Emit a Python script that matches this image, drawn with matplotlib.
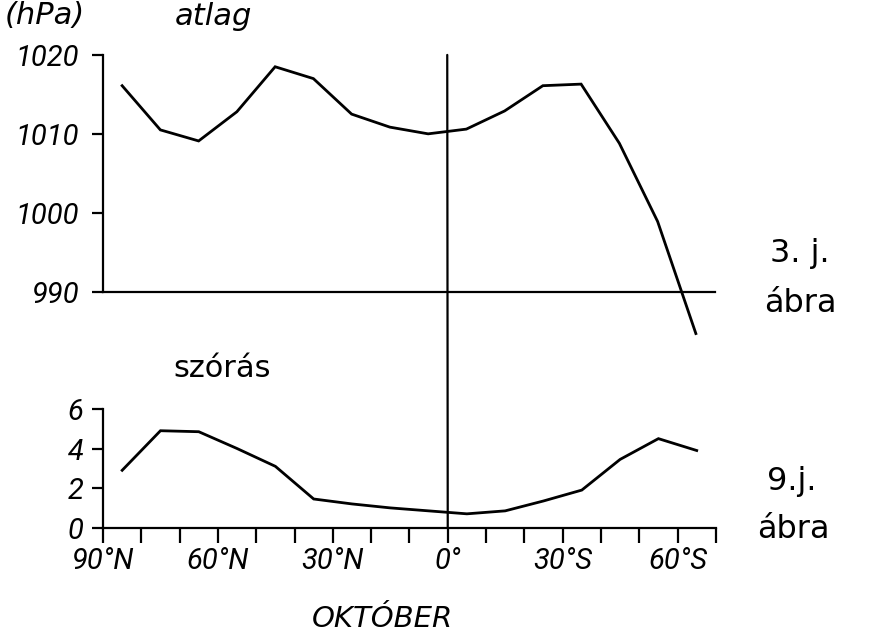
import matplotlib
matplotlib.use('Agg')
import matplotlib.pyplot as plt
from matplotlib.patches import ConnectionPatch

# ---- data ----
lat = [85, 75, 65, 55, 45, 35, 25, 15, 5, -5, -15, -25, -35, -45, -55, -65]
pressure_mean = [1016.1, 1010.5, 1009.1, 1012.8, 1018.5, 1017.0, 1012.5, 1010.85,
                 1010.0, 1010.6, 1012.9, 1016.1, 1016.3, 1008.8, 998.9, 984.7]
pressure_std = [2.9, 4.9, 4.85, 4.0, 3.1, 1.45, 1.2, 1.0, 0.85, 0.7, 0.85, 1.35,
                1.9, 3.45, 4.5, 3.9]
top_yticks = [990, 1000, 1010, 1020]
bottom_yticks = [0, 2, 4, 6]
xtick_pos = [90, 80, 70, 60, 50, 40, 30, 20, 10, 0, -10, -20, -30, -40, -50, -60, -70]
xtick_labels = ['90°N', '', '', '60°N', '', '', '30°N', '', '', '0°', '', '', '30°S', '', '', '60°S', '']

plt.rcParams['font.family'] = ['Roboto', 'DejaVu Sans']
plt.rcParams['font.style'] = 'italic'

LW_AX = 1.6
LW_LINE = 2.0
FS = 21

fig = plt.figure(figsize=(8.73, 6.4), dpi=100)
ax1 = fig.add_axes([0.118, 0.5442, 0.701, 0.370])
ax2 = fig.add_axes([0.118, 0.1755, 0.702, 0.1855])

for ax in (ax1, ax2):
    ax.set_xlim(90, -70)
    for s in ('top', 'right'):
        ax.spines[s].set_visible(False)
    for s in ('left', 'bottom'):
        ax.spines[s].set_linewidth(LW_AX)
    ax.patch.set_visible(False)

# top panel
ax1.plot(lat, pressure_mean, color='black', lw=LW_LINE, clip_on=False, solid_joinstyle='miter')
ax1.set_ylim(990, 1020)
ax1.set_yticks(top_yticks)
ax1.set_yticklabels([str(v) for v in top_yticks])
ax1.tick_params(axis='y', direction='out', length=8, width=LW_AX, labelsize=FS, pad=9)
ax1.tick_params(axis='x', length=0, labelbottom=False)

# bottom panel
ax2.plot(lat, pressure_std, color='black', lw=LW_LINE, clip_on=False, solid_joinstyle='miter')
ax2.set_ylim(0, 6)
ax2.set_yticks(bottom_yticks)
ax2.set_yticklabels([str(v) for v in bottom_yticks])
ax2.set_xticks(xtick_pos)
ax2.set_xticklabels(xtick_labels)
ax2.tick_params(axis='y', direction='out', length=8, width=LW_AX, labelsize=FS, pad=6)
ax2.tick_params(axis='x', direction='out', length=11, width=LW_AX, labelsize=FS, pad=3)

# vertical equator line through both panels
con = ConnectionPatch(xyA=(0, 1020), coordsA=ax1.transData,
                      xyB=(0, 0), coordsB=ax2.transData,
                      color='black', lw=LW_AX)
fig.add_artist(con)

# texts
ann = dict(family=['DejaVu Sans'], style='oblique')
fig.text(5 / 873, 1 - 24 / 640, '(hPa)', fontsize=22, ha='left', va='baseline', **ann)
fig.text(175 / 873, 1 - 25 / 640, 'atlag', fontsize=22, ha='left', va='baseline', **ann)
fig.text(173 / 873, 1 - 377 / 640, 'szórás', fontsize=22, ha='left', va='baseline',
         family=['DejaVu Sans'], style='normal')
fig.text(312 / 873, 1 - 627 / 640, 'OKTÓBER', fontsize=21, ha='left', va='baseline', **ann)

hand = dict(fontsize=23, style='normal', family=['DejaVu Sans'], ha='center', va='baseline')
fig.text(800 / 873, 1 - 262 / 640, '3. j.', **hand)
fig.text(800 / 873, 1 - 312 / 640, 'ábra', **hand)
fig.text(792 / 873, 1 - 490 / 640, '9.j.', **hand)
fig.text(793 / 873, 1 - 538 / 640, 'ábra', **hand)

fig.savefig('out.png', dpi=100)
